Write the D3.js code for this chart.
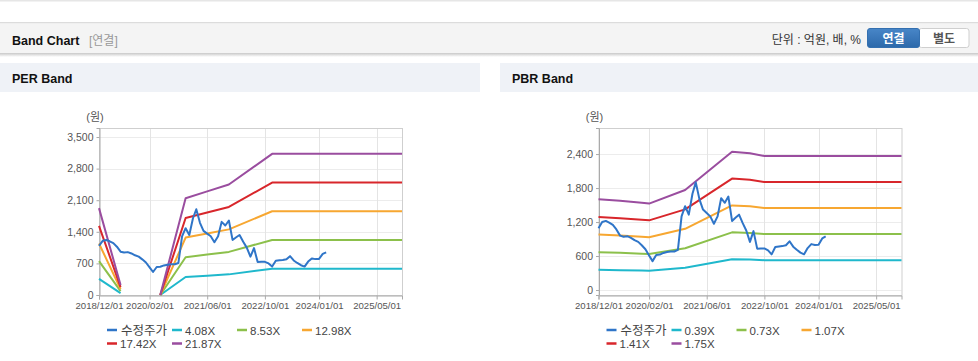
<!DOCTYPE html>
<html><head><meta charset="utf-8">
<script src="https://cdn.jsdelivr.net/npm/d3@7"></script>
<style>
body{margin:0;background:#fff;font-family:"Liberation Sans","Noto Sans CJK KR",Arial,sans-serif;}
svg{display:block}
</style></head><body>
<svg id="c" width="978" height="361"></svg>
<script>
// ---------- data ----------
const priceStart = "2018-12-01";           // monthly closes
const priceValues = [1090,1200,1220,1190,1150,1070,960,940,950,920,880,850,
  790,720,610,510,620,625,655,670,680,680,710,1300,1480,1330,1700,1900,1600,1420,
  1360,1300,1170,1300,1620,1540,1650,1220,1280,1330,1180,1050,850,1040,730,735,
  735,700,630,760,770,775,790,860,765,710,660,630,740,810,795,800,910,945];

const perDates = ["2018-12-01","2019-06-01","2019-12-01","2020-05-01","2020-12-01","2021-06-01","2021-12-01","2022-12-01","2025-12-01"];
const per408  = [359, 41, null, 0, 400, 428, 457, 583, 583];
const per853  = [751, 85, null, 0, 836, 896, 955, 1220, 1220];
const per1298 = [1142, 130, null, 0, 1272, 1363, 1454, 1856, 1856];
const per1742 = [1533, 174, null, 0, 1707, 1829, 1951, 2491, 2491];
const per2187 = [1925, 219, null, 0, 2143, 2296, 2449, 3127, 3127];

const pbrDates = ["2018-12-01","2019-06-01","2019-12-01","2020-02-01","2020-12-01","2022-01-01","2022-06-01","2022-10-01","2025-12-01"];
const pbr039 = [357, 351, 343, 340, 394, 544, 538, 527, 527];
const pbr073 = [668, 657, 642, 637, 737, 1018, 1007, 987, 987];
const pbr107 = [979, 963, 942, 933, 1080, 1493, 1477, 1447, 1447];
const pbr141 = [1290, 1269, 1241, 1230, 1423, 1967, 1946, 1906, 1906];
const pbr175 = [1601, 1575, 1540, 1526, 1766, 2441, 2415, 2366, 2366];

const perLabels = ["수정주가","4.08X","8.53X","12.98X","17.42X","21.87X"];
const pbrLabels = ["수정주가","0.39X","0.73X","1.07X","1.41X","1.75X"];
const xTickLabels = ["2018/12/01","2020/02/01","2021/06/01","2022/10/01","2024/01/01","2025/05/01"];
const perYTicks = [0,700,1400,2100,2800,3500];
const pbrYTicks = [0,600,1200,1800,2400];

const colors = ["#2f75c8","#1fb8cc","#8cc04b","#f7a731","#d8262b","#9a4d9f"];

// ---------- page chrome ----------
const svg = d3.select("#c");
const parse = d3.timeParse("%Y-%m-%d");
const parseTick = d3.timeParse("%Y/%m/%d");

svg.append("rect").attr("x",0).attr("y",0).attr("width",978).attr("height",1.5).attr("fill","#e6e6e6");
const defs = svg.append("defs");
const sh = defs.append("linearGradient").attr("id","sh").attr("x1",0).attr("x2",0).attr("y1",0).attr("y2",1);
sh.append("stop").attr("offset",0).attr("stop-color","#c8c8c8");
sh.append("stop").attr("offset",1).attr("stop-color","#fff");
const bg = defs.append("linearGradient").attr("id","btn").attr("x1",0).attr("x2",0).attr("y1",0).attr("y2",1);
bg.append("stop").attr("offset",0).attr("stop-color","#4886c8");
bg.append("stop").attr("offset",1).attr("stop-color","#2c69aa");

svg.append("rect").attr("x",0).attr("y",22).attr("width",978).attr("height",31).attr("fill","#f4f4f4");
svg.append("rect").attr("x",0).attr("y",22).attr("width",978).attr("height",1.2).attr("fill","#dcdcdc");
svg.append("rect").attr("x",0).attr("y",53).attr("width",978).attr("height",4).attr("fill","url(#sh)");
svg.append("text").attr("x",12).attr("y",44.5).attr("font-size",12.5).attr("font-weight","bold").attr("fill","#111").text("Band Chart");
svg.append("text").attr("x",89).attr("y",44.5).attr("font-size",12).attr("fill","#999").text("[연결]");
svg.append("text").attr("x",861).attr("y",44).attr("text-anchor","end").attr("font-size",12).attr("fill","#333").text("단위 : 억원, 배, %");
svg.append("rect").attr("x",919).attr("y",28.5).attr("width",50).attr("height",19).attr("rx",2.5).attr("fill","#fff").attr("stroke","#cfcfcf");
svg.append("rect").attr("x",867.5).attr("y",28.5).attr("width",52).attr("height",19).attr("rx",2.5).attr("fill","url(#btn)").attr("stroke","#3470b0");
svg.append("text").attr("x",893.5).attr("y",42.5).attr("text-anchor","middle").attr("font-size",12).attr("font-weight","bold").attr("fill","#fff").text("연결");
svg.append("text").attr("x",944).attr("y",42.5).attr("text-anchor","middle").attr("font-size",12).attr("font-weight","bold").attr("fill","#555").text("별도");

// ---------- chart panel ----------
function panel(opt){
  svg.append("rect").attr("x",opt.hx).attr("y",63).attr("width",opt.hw).attr("height",29).attr("fill","#eff2f7");
  svg.append("text").attr("x",opt.hx+12).attr("y",83).attr("font-size",12.5).attr("font-weight","bold").attr("fill","#111").text(opt.title);

  const top = 128, bottom = 295;
  const x = d3.scaleTime().domain([parse("2018-12-01"), parse("2025-12-01")]).range([opt.left, opt.left+303]);
  const y = d3.scaleLinear().domain(opt.ydom).range([bottom, top]);
  const g = svg.append("g");

  // grid
  g.append("g").selectAll("line").data(opt.yTicks).join("line")
    .attr("x1",opt.left).attr("x2",opt.left+303).attr("y1",d=>Math.round(y(d))+0.5).attr("y2",d=>Math.round(y(d))+0.5)
    .attr("stroke","#ececec");
  const xt = xTickLabels.map(parseTick);
  g.append("g").selectAll("line").data(xt).join("line")
    .attr("y1",top).attr("y2",bottom).attr("x1",d=>Math.round(x(d))+0.5).attr("x2",d=>Math.round(x(d))+0.5)
    .attr("stroke","#e4e4e4");
  g.append("rect").attr("x",opt.left+0.5).attr("y",top+0.5).attr("width",303).attr("height",bottom-top)
    .attr("fill","none").attr("stroke","#cfcfcf");

  // axes
  const ya = g.append("g").attr("transform",`translate(${opt.left+0.5},0)`)
    .call(d3.axisLeft(y).tickValues(opt.yTicks).tickSize(3).tickPadding(3).tickFormat(d3.format(",")));
  const xa = g.append("g").attr("transform",`translate(0,${bottom+0.5})`)
    .call(d3.axisBottom(x).tickValues(xt).tickSize(4).tickPadding(3).tickFormat(d3.timeFormat("%Y/%m/%d")));
  [ya,xa].forEach(a=>{
    a.select(".domain").attr("stroke","#aaa");
    a.selectAll(".tick line").attr("stroke","#aaa");
    a.selectAll("text").attr("fill","#555").attr("font-family","Liberation Sans, Arial, sans-serif");
  });
  ya.selectAll("text").attr("font-size",10.5);
  xa.selectAll("text").attr("font-size",9.6);
  g.append("text").attr("x",opt.left-4).attr("y",121).attr("text-anchor","middle").attr("font-size",11).attr("fill","#555").text("(원)");

  // band lines
  const bd = opt.bandDates.map(parse);
  opt.bands.forEach((arr,i)=>{
    const line = d3.line().defined(d=>d[1]!=null).x(d=>x(d[0])).y(d=>y(d[1]));
    g.append("path").datum(arr.map((v,k)=>[bd[k],v])).attr("d",line)
      .attr("fill","none").attr("stroke",colors[i+1]).attr("stroke-width",2).attr("stroke-linejoin","round");
  });
  // price
  const p0 = parse(priceStart);
  const pd = priceValues.map((v,k)=>[d3.timeMonth.offset(p0,k),v]);
  g.append("path").datum(pd).attr("d",d3.line().x(d=>x(d[0])).y(d=>y(d[1])))
    .attr("fill","none").attr("stroke",colors[0]).attr("stroke-width",2).attr("stroke-linejoin","round");

  // legend
  const lg = g.append("g");
  opt.labels.forEach((t,i)=>{
    const row = i<4?0:1, col = i<4?i:i-4;
    const lx = opt.left+8+col*65, ly = row===0?330:343.5;
    lg.append("line").attr("x1",lx).attr("x2",lx+10).attr("y1",ly).attr("y2",ly)
      .attr("stroke",colors[i]).attr("stroke-width",2.5);
    lg.append("text").attr("x",i===0?lx+14:lx+13).attr("y",ly+4.5).attr("font-size",i===0?12.5:11.5).attr("fill","#444").text(t);
  });
}

panel({hx:0,hw:480,title:"PER Band",left:99,ydom:[0,3700],yTicks:perYTicks,
  bandDates:perDates,bands:[per408,per853,per1298,per1742,per2187],labels:perLabels});
panel({hx:500,hw:478,title:"PBR Band",left:598.5,ydom:[-88,2860],yTicks:pbrYTicks,
  bandDates:pbrDates,bands:[pbr039,pbr073,pbr107,pbr141,pbr175],labels:pbrLabels});
</script>
</body></html>
